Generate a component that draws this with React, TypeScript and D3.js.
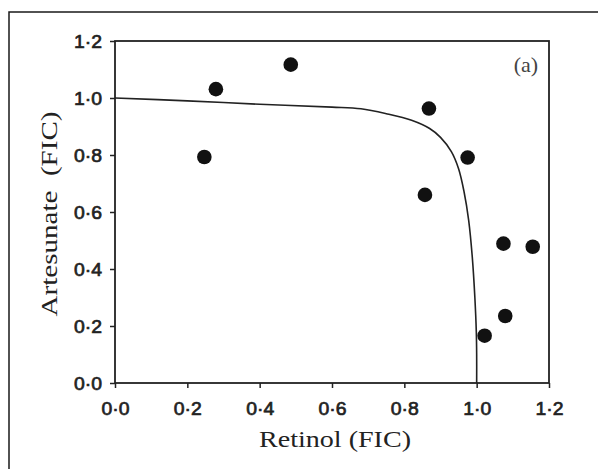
import React, { useEffect, useRef } from 'react';
import * as d3 from 'd3';

// observed points (Retinol FIC, Artesunate FIC)
const retinolFic = [0.247, 0.279, 0.486, 0.868, 0.857, 0.975, 1.074, 1.155, 1.022, 1.079];
const artesunateFic = [0.793, 1.031, 1.117, 0.963, 0.660, 0.791, 0.489, 0.478, 0.166, 0.235];

// fitted isobole curve
const curveX = [0, 0.2, 0.4, 0.6, 0.68, 0.75, 0.82, 0.87, 0.9, 0.93, 0.95, 0.965, 0.978, 0.988, 0.995, 0.999, 1.0, 1.0];
const curveY = [1.0, 0.99, 0.978, 0.968, 0.962, 0.945, 0.922, 0.893, 0.862, 0.812, 0.752, 0.672, 0.57, 0.44, 0.3, 0.18, 0.1, 0];

const xTicks = [0, 0.2, 0.4, 0.6, 0.8, 1.0, 1.2];
const yTicks = [0, 0.2, 0.4, 0.6, 0.8, 1.0, 1.2];

const W = 598;
const H = 469;
const margin = { left: 115, top: 41, right: 49, bottom: 86 };

const fmt = (d: number) => d3.format('.1f')(d).replace('.', '\u00b7');

export default function App() {
  const ref = useRef<SVGSVGElement>(null);

  useEffect(() => {
    const svg = d3.select(ref.current);
    svg.selectAll('*').remove();

    const x = d3.scaleLinear().domain([0, 1.2]).range([margin.left, W - margin.right]);
    const y = d3.scaleLinear().domain([0, 1.2]).range([H - margin.bottom, margin.top]);

    // outer frame (runs off the right and bottom edge)
    svg.append('path')
      .attr('d', `M9,${H + 5}L9,12L${W + 5},12`)
      .attr('fill', 'none')
      .attr('stroke', '#1a1a1a')
      .attr('stroke-width', 1.5);

    const tickFont = "'Liberation Sans', Arial, sans-serif";

    // x axis
    const gx = svg.append('g')
      .attr('transform', `translate(0,${y(0)})`)
      .call(d3.axisBottom(x).tickValues(xTicks).tickFormat(d => fmt(+d)).tickSize(5).tickPadding(14));
    gx.select('.domain').remove();

    // y axis
    const gy = svg.append('g')
      .attr('transform', `translate(${x(0)},0)`)
      .call(d3.axisLeft(y).tickValues(yTicks).tickFormat(d => fmt(+d)).tickSize(5).tickPadding(8));
    gy.select('.domain').remove();

    svg.selectAll('.tick line').attr('stroke', '#222').attr('stroke-width', 1.5);
    svg.selectAll('.tick text')
      .attr('font-family', tickFont)
      .attr('font-size', 19)
      .attr('textLength', 28)
      .attr('lengthAdjust', 'spacingAndGlyphs')
      .attr('fill', '#222')
      .attr('stroke', '#222')
      .attr('stroke-width', 0.7);

    // plot box
    svg.append('rect')
      .attr('x', x(0))
      .attr('y', y(1.2))
      .attr('width', x(1.2) - x(0))
      .attr('height', y(0) - y(1.2))
      .attr('fill', 'none')
      .attr('stroke', '#222')
      .attr('stroke-width', 1.8);

    // isobole
    const line = d3.line<number>()
      .x(i => x(curveX[i]))
      .y(i => y(curveY[i]))
      .curve(d3.curveCatmullRom.alpha(0.5));

    svg.append('path')
      .datum(d3.range(curveX.length))
      .attr('d', line)
      .attr('fill', 'none')
      .attr('stroke', '#222')
      .attr('stroke-width', 1.6);

    // data points
    svg.selectAll('dots')
      .data(retinolFic)
      .enter()
      .append('circle')
      .attr('cx', d => x(d))
      .attr('cy', (d, i) => y(artesunateFic[i]))
      .attr('r', 7.3)
      .attr('fill', '#111');

    const serif = "'Liberation Serif', 'Times New Roman', serif";

    // axis titles
    svg.append('text')
      .attr('x', 335)
      .attr('y', 447)
      .attr('text-anchor', 'middle')
      .attr('font-family', serif)
      .attr('font-size', 24)
      .attr('textLength', 152)
      .attr('lengthAdjust', 'spacingAndGlyphs')
      .attr('fill', '#222')
      .text('Retinol (FIC)');

    svg.append('text')
      .attr('transform', 'translate(57,214) rotate(-90)')
      .attr('text-anchor', 'middle')
      .attr('font-family', serif)
      .attr('font-size', 24)
      .attr('textLength', 205)
      .attr('lengthAdjust', 'spacingAndGlyphs')
      .attr('fill', '#222')
      .style('white-space', 'pre')
      .text('Artesunate  (FIC)');

    // panel label
    svg.append('text')
      .attr('x', 526)
      .attr('y', 72)
      .attr('text-anchor', 'middle')
      .attr('font-family', serif)
      .attr('font-size', 22)
      .attr('fill', '#444')
      .text('(a)');
  }, []);

  return (
    <svg ref={ref} width={W} height={H} style={{ position: 'absolute', left: 0, top: 0, background: '#fff' }} />
  );
}
